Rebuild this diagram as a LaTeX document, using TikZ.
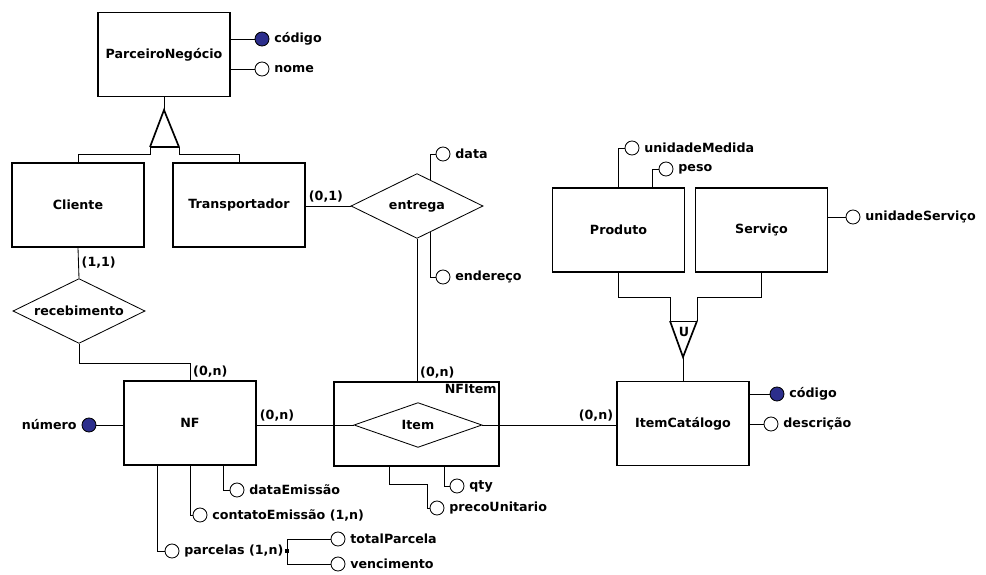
\documentclass[tikz,border=0pt]{standalone}
\usepackage{fontspec}
\setmainfont{DejaVu Sans}
\usetikzlibrary{shapes.geometric,calc}

\definecolor{keyblue}{RGB}{44,46,140}

\tikzset{
  entity/.style={draw, line width=1pt, minimum width=3.3cm, minimum height=2.1cm, inner sep=0pt},
  rel/.style={draw, diamond, aspect=2, line width=0.6pt, minimum width=3.3cm, minimum height=1.62cm, inner sep=0pt},
  attr/.style={draw, circle, line width=0.6pt, minimum size=0.35cm, inner sep=0pt, fill=white},
  keyattr/.style={attr, fill=keyblue},
  card/.style={inner sep=2pt},
  link/.style={line width=0.6pt}
}

\begin{document}
\begin{tikzpicture}[x=0.025cm, y=-0.025cm, font=\fontsize{9}{10}\selectfont\bfseries]

\path [use as bounding box] (0,0) rectangle (986,574);

% ENTITIES
\node [entity] (pn) at (164,54.5) {ParceiroNegócio};
\node [entity] (cli) at (78,205) {Cliente};
\node [entity] (tra) at (239,205) {Transportador};
\node [entity] (nf) at (190,423) {NF};
\node [entity, minimum width=4.125cm] (nfi) at (416.5,424) {};
\node [anchor=north east, inner sep=2pt] (nfilbl) at (nfi.north east) {NFItem};
\node [entity] (ic) at (683,423.5) {ItemCatálogo};
\node [entity] (prod) at (618.5,230) {Produto};
\node [entity] (serv) at (761.5,230) {Serviço};

% RELATIONSHIPS
\node [rel] (rec) at (79,311) {recebimento};
\node [rel] (ent) at (417,206) {entrega};
\node [rel, minimum width=3.2cm, minimum height=1.12cm] (item) at (418,425) {Item};

% GENERALIZATION
\coordinate (gtop) at (164,110);
\coordinate (gl) at (150,147);
\coordinate (gr) at (179,147);
\draw [link] (pn.south) -- (gtop);
\draw [line width=1.2pt] (gl) -- (gtop) -- (gr);
\draw [line width=1.6pt] (gl) -- (gr);
\draw [link] (gl) -- ++(0,7) -| (cli.north);
\draw [link] (gr) -- ++(0,7) -| (tra.north);

% UNION
\coordinate (ul) at (670,321);
\coordinate (ur) at (697,321);
\coordinate (ubot) at (683,357);
\draw [line width=1.2pt] (ul) -- (ubot) -- (ur);
\draw [link] (ul) -- (ur);
\node [inner sep=0pt] (uname) at (684,332) {U};
\draw [link] (ul) -- ++(0,-24) -| (prod.south);
\draw [link] (ur) -- ++(0,-24) -| (serv.south);
\draw [link] (ubot) -- (ic.north);

% CONNECTIONS
\draw [link] (cli.south) -- (rec.north) node [pos=0.5, right, card] {(1,1)};
\draw [link] (rec.south) -- ++(0,20) -| (nf.north) node [pos=1, anchor=south west, card] {(0,n)};
\draw [link] (tra.east |- ent) -- (ent.west) node [pos=0, anchor=south west, card] {(0,1)};
\draw [link] (ent.south) -- (ent.south |- nfi.north) node [pos=1, anchor=south west, card] {(0,n)};
\draw [link] (nf.east |- item) -- (item.west) node [pos=0, anchor=south west, card] {(0,n)};
\draw [link] (item.east) -- (ic.west |- item) node [pos=1, anchor=south east, card] {(0,n)};

% ATTRIBUTES
\node [keyattr, label=right:código] (pncod) at (262,39) {};
\node [attr, label=right:nome] (pnnome) at (262,69) {};
\draw [link] (pn.east |- pncod) -- (pncod);
\draw [link] (pn.east |- pnnome) -- (pnnome);

\node [attr, label=right:data] (entdata) at (443,154) {};
\node [attr, label=right:endereço] (entend) at (443,277) {};
\draw [link] ($(ent.north)!0.2!(ent.east)$) |- (entdata);
\draw [link] ($(ent.south)!0.2!(ent.east)$) |- (entend);

\node [keyattr, label=left:número] (nfnum) at (89,425) {};
\draw [link] (nfnum) -- (nf.west |- nfnum);
\node [attr, label=right:dataEmissão] (nfdata) at (237,490) {};
\node [attr, label=right:contatoEmissão (1{,}n)] (nfcont) at (200,515) {};
\node [attr, label=right:parcelas (1{,}n)] (nfparc) at (172,551) {};
\draw [link] ([xshift=0.825cm]nf.south) |- (nfdata);
\draw [link] (nf.south) |- (nfcont);
\draw [link] ([xshift=-0.825cm]nf.south) |- (nfparc);

\node [fill, rectangle, inner sep=1.2pt] (pdot) at (287,551) {};
\node [attr, label=right:totalParcela] (ptot) at (338,539) {};
\node [attr, label=right:vencimento] (pvenc) at (338,564) {};
\draw [link] (pdot) |- (ptot);
\draw [link] (pdot) |- (pvenc);

\node [attr, label=right:qty] (qty) at (457,486) {};
\node [attr, label=right:precoUnitario] (preco) at (437,508) {};
\draw [link] ([xshift=0.6875cm]nfi.south) |- (qty);
\draw [link] ([xshift=-0.6875cm]nfi.south) -- ++(0,18) -- ++(38,0) |- (preco);

\node [keyattr, label=right:código] (iccod) at (777,394) {};
\node [attr, label=right:descrição] (icdesc) at (771,424) {};
\draw [link] (ic.east |- iccod) -- (iccod);
\draw [link] (ic.east |- icdesc) -- (icdesc);

\node [attr, label=right:unidadeMedida] (pum) at (632,148) {};
\node [attr, label=right:peso] (ppeso) at (666,169) {};
\draw [link] (prod.north) |- (pum);
\draw [link] ([xshift=0.84cm]prod.north) |- (ppeso);

\node [attr, label=right:unidadeServiço] (sus) at (853,217) {};
\draw [link] (serv.east |- sus) -- (sus);

\end{tikzpicture}
\end{document}
